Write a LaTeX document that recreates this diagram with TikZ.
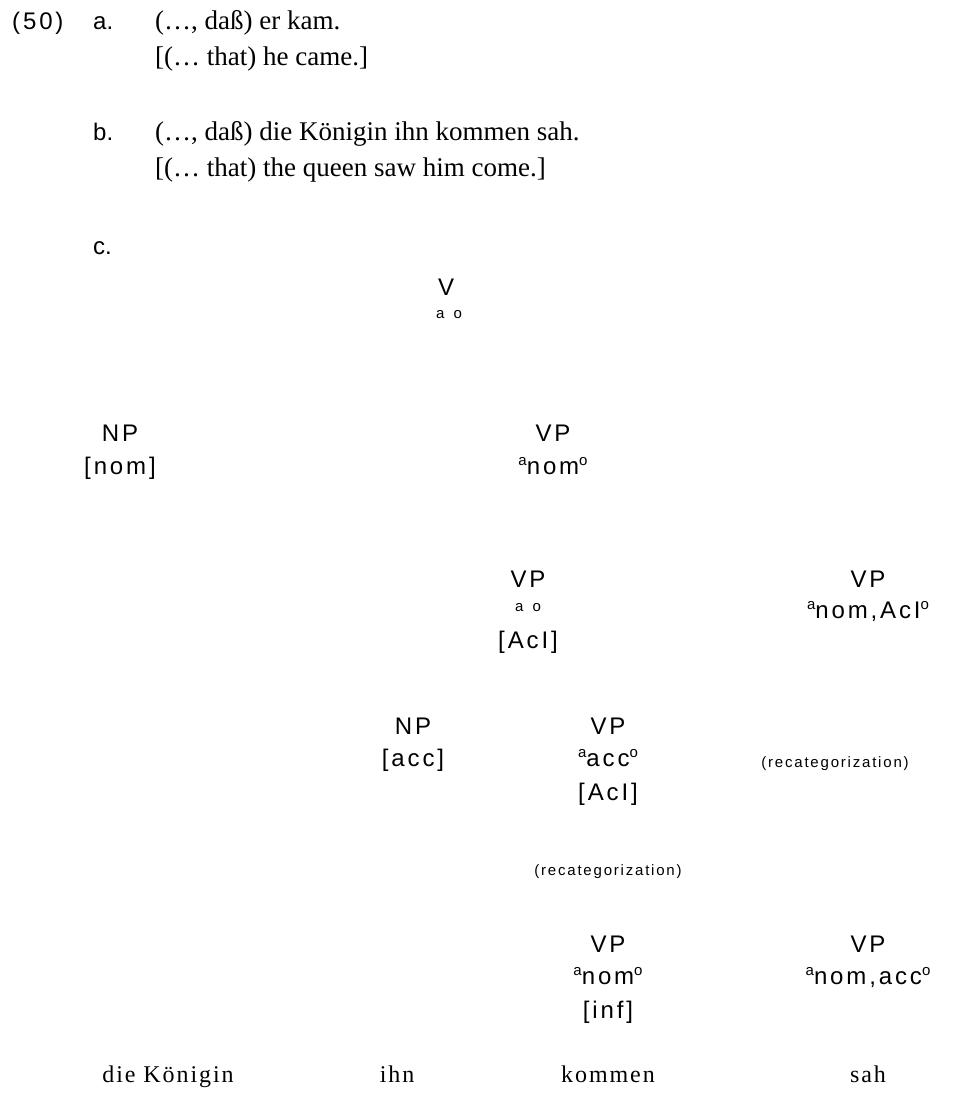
\documentclass[tikz,border=0pt]{standalone}
\usepackage{fontspec}
\setmainfont{Liberation Serif}
\setsansfont[LetterSpace=12]{Liberation Sans}
\newfontfamily\plainsans{Liberation Sans}
\newfontfamily\wordfont[LetterSpace=8]{Liberation Serif}
\newcommand\supr[1]{\raisebox{0.36em}{\fontsize{15}{15}\selectfont #1}}
\tikzset{
  lab/.style={font=\sffamily\fontsize{24}{24}\selectfont, inner sep=0pt, anchor=base},
  item/.style={font=\plainsans\fontsize{24}{24}\selectfont, inner sep=0pt, anchor=base west},
  small/.style={font=\sffamily\fontsize{15}{15}\selectfont, inner sep=0pt, anchor=base},
  ser/.style={font=\rmfamily\fontsize{27}{27}\selectfont, inner sep=0pt, anchor=base west},
  word/.style={font=\wordfont\fontsize{24}{24}\selectfont, inner sep=0pt, anchor=base},
}
\begin{document}
\begin{tikzpicture}[x=1pt,y=-1pt]
\useasboundingbox (0,0) rectangle (974,1097);
% header
\node[lab, anchor=base west] (num) at (12,30) {(50)};
\node[item] (la) at (93,30) {a.};
\node[ser] (sa1) at (155,30) {(…, daß) er kam.};
\node[ser] (sa2) at (155,66) {[(… that) he came.]};
\node[item] (lb) at (93,141) {b.};
\node[ser] (sb1) at (155,141) {(…, daß) die Königin ihn kommen sah.};
\node[ser] (sb2) at (155,176) {[(… that) the queen saw him come.]};
\node[item] (lc) at (93,254) {c.};
% tree labels
\node[lab] (v) at (446,295) {V};
\node[small] (vf) at (449,318) {a\hspace{9pt}o};
\node[lab] (np1) at (120,441) {NP};
\node[lab] (np1f) at (120,474) {[nom]};
\node[lab] (vp1) at (553,441) {VP};
\node[lab] (vp1f) at (553,474) {\supr{a}nom\supr{o}};
\node[lab] (vp2) at (528,587) {VP};
\node[small] (vp2f) at (528,611) {a\hspace{9pt}o};
\node[lab] (vp2g) at (528,648) {[AcI]};
\node[lab] (vp3) at (868,587) {VP};
\node[lab] (vp3f) at (868,618) {\supr{a}nom,AcI\supr{o}};
\node[lab] (np2) at (413,734) {NP};
\node[lab] (np2f) at (413,766) {[acc]};
\node[lab] (vp4) at (608,734) {VP};
\node[lab] (vp4f) at (608,766) {\supr{a}acc\supr{o}};
\node[lab] (vp4g) at (608,800) {[AcI]};
\node[small] (rc1) at (835,767) {(recategorization)};
\node[small] (rc2) at (608,875) {(recategorization)};
\node[lab] (vp5) at (608,952) {VP};
\node[lab] (vp5f) at (608,984) {\supr{a}nom\supr{o}};
\node[lab] (vp5g) at (608,1018) {[inf]};
\node[lab] (vp6) at (868,952) {VP};
\node[lab] (vp6f) at (868,984) {\supr{a}nom,acc\supr{o}};
% words
\node[word] (w1) at (168,1082) {die Königin};
\node[word] (w2) at (397,1082) {ihn};
\node[word] (w3) at (608,1082) {kommen};
\node[word] (w4) at (868,1082) {sah};
\end{tikzpicture}
\end{document}
